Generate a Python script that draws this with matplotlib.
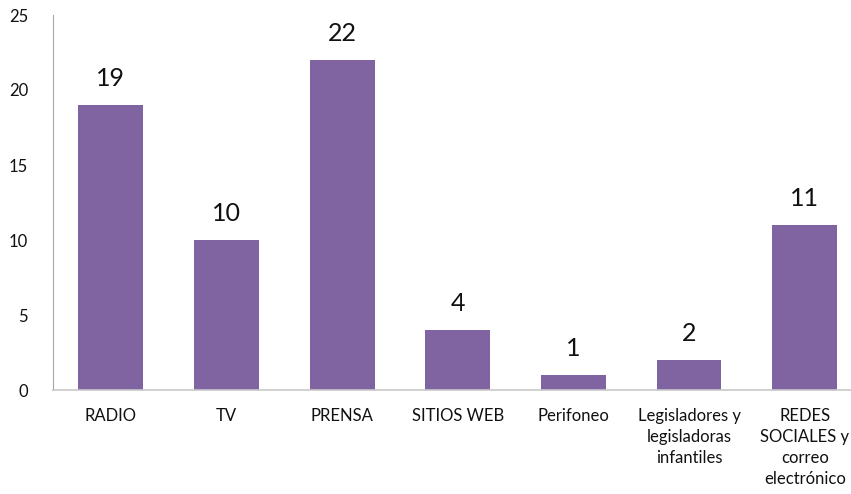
import matplotlib
matplotlib.use("Agg")
import matplotlib.pyplot as plt

categories = ["RADIO", "TV", "PRENSA", "SITIOS WEB", "Perifoneo",
              "Legisladores y\nlegisladoras\ninfantiles",
              "REDES\nSOCIALES y\ncorreo\nelectrónico"]
values = [19, 10, 22, 4, 1, 2, 11]
yticks = [0, 5, 10, 15, 20, 25]

plt.rcParams["font.family"] = ["Lato", "DejaVu Sans"]

fig = plt.figure(figsize=(8.51, 4.94), dpi=100)
ax = fig.add_axes([53 / 851, 104 / 494, 798 / 851, 375 / 494])

x = range(len(categories))
bars = ax.bar(x, values, width=0.56, color="#8064A2")

for b, v in zip(bars, values):
    ax.annotate(str(v), (b.get_x() + b.get_width() / 2, v),
                xytext=(0, 11), textcoords="offset points",
                ha="center", va="bottom", fontsize=18, color="#111111")

ax.set_xlim(-0.5, 6.4)
ax.set_ylim(0, 25)
ax.set_yticks(yticks)
ax.set_xticks(list(x))
ax.set_xticklabels(categories, fontsize=12, linespacing=1.38, va="top")
ax.tick_params(axis="both", length=0, labelsize=12, colors="#111111")
ax.tick_params(axis="x", pad=13)
ax.tick_params(axis="y", pad=18)

for s in ["top", "right"]:
    ax.spines[s].set_visible(False)
ax.spines["left"].set_color("#A6A6A6")
ax.spines["bottom"].set_color("#C8C8C8")
ax.spines["bottom"].set_linewidth(1.2)

fig.savefig("out.png", dpi=100)
